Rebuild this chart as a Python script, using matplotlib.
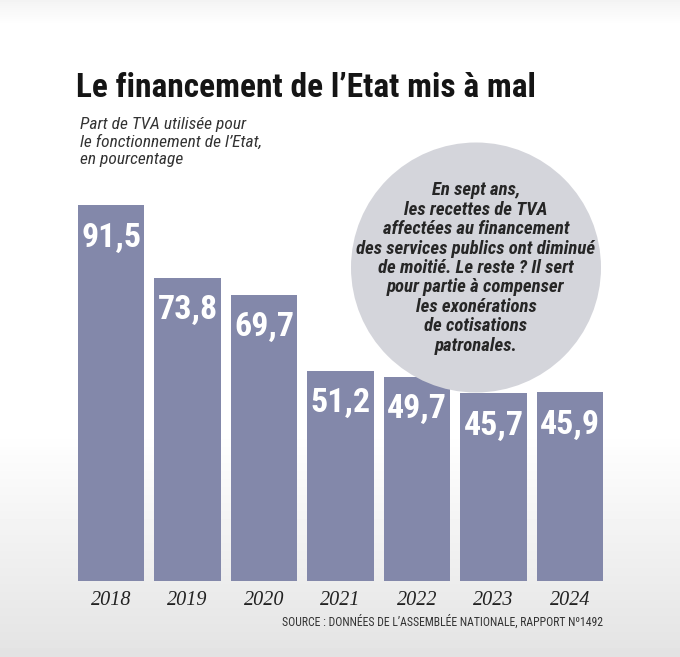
import matplotlib
matplotlib.use("Agg")
import matplotlib.pyplot as plt
import numpy as np
from matplotlib import font_manager
from matplotlib.patches import Circle

years = ["2018", "2019", "2020", "2021", "2022", "2023", "2024"]
values = [91.5, 73.8, 69.7, 51.2, 49.7, 45.7, 45.9]
value_labels = ["91,5", "73,8", "69,7", "51,2", "49,7", "45,7", "45,9"]

title = "Le financement de l\u2019Etat mis à mal"
subtitle = "Part de TVA utilisée pour\nle fonctionnement de l\u2019Etat,\nen pourcentage"
note = ("En sept ans,\nles recettes de TVA\naffectées au financement\n"
        "des services publics ont diminué\nde moitié. Le reste ? Il sert\n"
        "pour partie à compenser\nles exonérations\nde cotisations\npatronales.")
source = "SOURCE : DONNÉES DE L\u2019ASSEMBLÉE NATIONALE, RAPPORT Nº1492"

installed = {f.name for f in font_manager.fontManager.ttflist}
def pick(*names):
    for n in names:
        if n in installed:
            return n
    return "DejaVu Sans"

narrow = pick("Liberation Sans Narrow", "Roboto Condensed", "DejaVu Sans")
serif = pick("Liberation Serif", "DejaVu Serif")

bar_color = "#8388aa"
W, H = 680, 657
fig = plt.figure(figsize=(W / 100, H / 100), dpi=100)

# background gradient
bg = fig.add_axes([0, 0, 1, 1], zorder=-10)
yy = np.array([0, 25, 430, 657])
gg = np.array([0.955, 1.0, 1.0, 0.89])
col = np.interp(np.arange(H), yy, gg)
img = np.repeat(col[:, None], 4, axis=1)
bg.imshow(img, cmap="gray", vmin=0, vmax=1, aspect="auto", extent=[0, 1, 0, 1])
bg.axis("off")

ax = fig.add_axes([78 / W, (H - 581) / H, 525 / W, 411 / H])
ax.set_facecolor("none")
x = np.arange(len(years))
bars = ax.bar(x, values, width=0.865, color=bar_color, zorder=2)
ax.set_xlim(-0.4325, len(years) - 1 + 0.4325)
ax.set_ylim(0, 100)
for s in ax.spines.values():
    s.set_visible(False)
ax.set_yticks([])
ax.set_xticks(x)
ax.set_xticklabels(years, family=serif, style="italic", fontsize=14.5, color="#222222")
ax.tick_params(axis="x", length=0, pad=7)

for xi, v, lab in zip(x, values, value_labels):
    ax.annotate(lab, (xi, v), xytext=(0, -12), textcoords="offset points",
                ha="center", va="top", color="white", fontsize=24.5,
                family=narrow, weight="bold", zorder=3)

# grey circle behind the bars
circ = Circle((476 / 100, (H - 267.5) / 100), 1.25, transform=fig.dpi_scale_trans,
              facecolor="#d4d5db", edgecolor="none", zorder=1)
fig.patches.append(circ)
ax.set_zorder(1)

fig.text(476 / W, 1 - 268 / H, note, ha="center", va="center", fontsize=13.5,
         family=narrow, weight="bold", style="italic", color="#262626",
         linespacing=1.1, zorder=5)

fig.text(76 / W, 1 - 97 / H, title, ha="left", va="baseline", fontsize=24,
         family=narrow, weight="bold", color="#151515")
fig.text(80 / W, 1 - 117 / H, subtitle, ha="left", va="top", fontsize=12.5,
         family=narrow, style="italic", color="#333333", linespacing=1.2)
fig.text(603 / W, 1 - 626 / H, source, ha="right", va="baseline", fontsize=8.5,
         family=narrow, color="#333333")

fig.savefig("out.png", dpi=100)
